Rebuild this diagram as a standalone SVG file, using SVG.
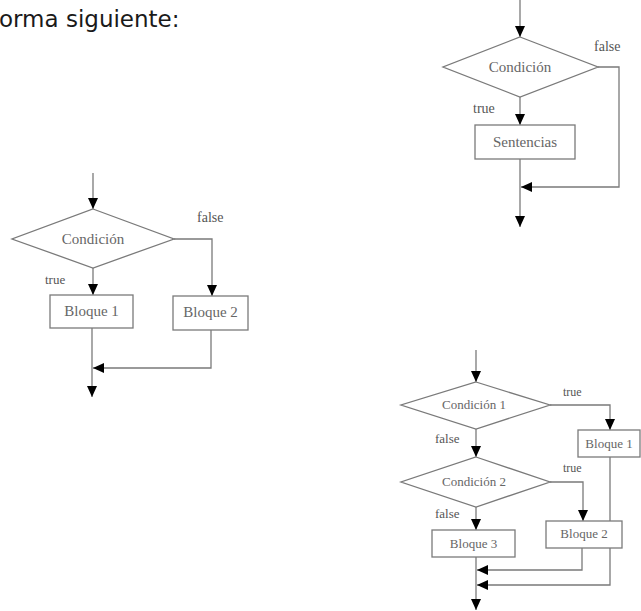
<svg xmlns="http://www.w3.org/2000/svg" width="641" height="611" viewBox="0 0 641 611">
<style>
.ln{fill:none;stroke:#7a7a7a;stroke-width:1.3}
.shp{fill:#fff;stroke:#7a7a7a;stroke-width:1.3}
.t{font-family:"Liberation Serif","Times New Roman",serif;fill:#666;text-anchor:middle}
.lb{font-family:"Liberation Serif","Times New Roman",serif;fill:#555}
.big{font-size:15px}
.sm{font-size:13px}
.hd{font-family:"DejaVu Sans",Verdana,sans-serif;font-size:23px;fill:#1a1a1a}
</style>
<defs>
<marker id="ah" markerUnits="userSpaceOnUse" markerWidth="11" markerHeight="10" refX="11" refY="5" orient="auto">
<path d="M0,0 L11,5 L0,10 z" fill="#000"/>
</marker>
</defs>
<text class="hd" x="-1" y="27">orma siguiente:</text>

<g id="connectors">
<line class="ln" x1="520" y1="0" x2="520" y2="37" marker-end="url(#ah)"/>
<line class="ln" x1="520" y1="97" x2="520" y2="125" marker-end="url(#ah)"/>
<line class="ln" x1="520" y1="159" x2="520" y2="227" marker-end="url(#ah)"/>
<path class="ln" d="M598,67 H619 V187 H521" marker-end="url(#ah)"/>
<line class="ln" x1="93" y1="173" x2="93" y2="209" marker-end="url(#ah)"/>
<line class="ln" x1="93" y1="268" x2="93" y2="295" marker-end="url(#ah)"/>
<path class="ln" d="M174,239 H212 V296" marker-end="url(#ah)"/>
<line class="ln" x1="92" y1="328" x2="92" y2="397" marker-end="url(#ah)"/>
<path class="ln" d="M211,330 V368 H93" marker-end="url(#ah)"/>
<line class="ln" x1="476" y1="350" x2="476" y2="382" marker-end="url(#ah)"/>
<line class="ln" x1="476" y1="429" x2="476" y2="457" marker-end="url(#ah)"/>
<path class="ln" d="M550,405 H610 V430" marker-end="url(#ah)"/>
<line class="ln" x1="476" y1="507" x2="476" y2="530" marker-end="url(#ah)"/>
<path class="ln" d="M550,482 H583 V521" marker-end="url(#ah)"/>
<line class="ln" x1="476" y1="557" x2="476" y2="610" marker-end="url(#ah)"/>
<path class="ln" d="M582,548 V570 H477" marker-end="url(#ah)"/>
<path class="ln" d="M610,457 V585 H477" marker-end="url(#ah)"/>
</g>

<g id="cond-top">
<polygon class="shp" points="520,37 598,67 520,97 443,67"/>
<text class="t big" x="520" y="72">Condición</text>
</g>
<g id="sentencias">
<rect class="shp" x="475" y="125" width="100" height="34"/>
<text class="t big" x="525" y="147">Sentencias</text>
</g>
<g id="labels-top">
<text class="lb" font-size="14" x="594" y="51">false</text>
<text class="lb" font-size="14" x="473" y="113">true</text>
</g>

<g id="cond-left">
<polygon class="shp" points="93,209 174,239 93,268 12,239"/>
<text class="t big" x="93" y="244">Condición</text>
</g>
<g id="bloque1-left">
<rect class="shp" x="50" y="295" width="83" height="33"/>
<text class="t big" x="91.5" y="316">Bloque 1</text>
</g>
<g id="bloque2-left">
<rect class="shp" x="173" y="296" width="75" height="34"/>
<text class="t big" x="210.5" y="317">Bloque 2</text>
</g>
<g id="labels-left">
<text class="lb" font-size="14" x="197" y="222">false</text>
<text class="lb" font-size="13" x="45" y="284">true</text>
</g>

<g id="cond1">
<polygon class="shp" points="476,382 550,405 476,429 401,405"/>
<text class="t sm" x="474" y="409">Condición 1</text>
</g>
<g id="cond2">
<polygon class="shp" points="476,457 550,482 476,507 401,482"/>
<text class="t sm" x="474" y="486">Condición 2</text>
</g>
<g id="bloque1-r">
<rect class="shp" x="578" y="430" width="62" height="27"/>
<text class="t sm" x="609" y="448">Bloque 1</text>
</g>
<g id="bloque2-r">
<rect class="shp" x="546" y="521" width="76" height="27"/>
<text class="t sm" x="584" y="538">Bloque 2</text>
</g>
<g id="bloque3-r">
<rect class="shp" x="432" y="530" width="83" height="27"/>
<text class="t sm" x="473.5" y="548">Bloque 3</text>
</g>
<g id="labels-r">
<text class="lb" font-size="12" x="563" y="396">true</text>
<text class="lb" font-size="13" x="435" y="443">false</text>
<text class="lb" font-size="12" x="563" y="472">true</text>
<text class="lb" font-size="13" x="435" y="518">false</text>
</g>
</svg>
